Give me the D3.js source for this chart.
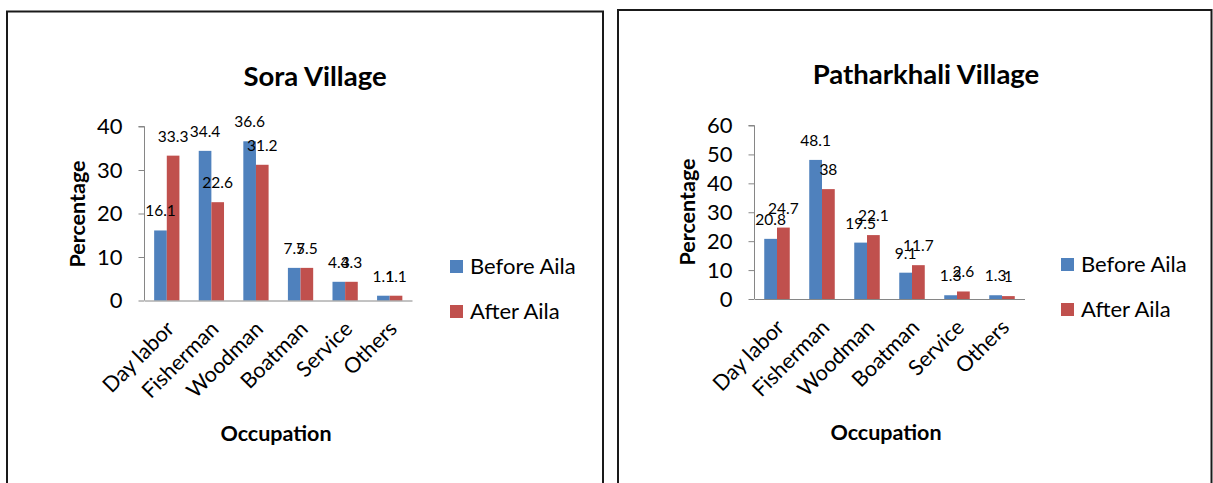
<!DOCTYPE html>
<html><head><meta charset="utf-8">
<script src="https://cdn.jsdelivr.net/npm/d3@7"></script>
<style>
body{margin:0;background:#fff}
svg{display:block}
text{font-family:Lato,"Open Sans",sans-serif;fill:#000}
</style>
</head><body>
<svg id="c" width="1213" height="483"></svg>
<script>
const categories = ["Day labor","Fisherman","Woodman","Boatman","Service","Others"];
const seriesNames = ["Before Aila","After Aila"];
const soraBefore = [16.1,34.4,36.6,7.5,4.3,1.1];
const soraAfter  = [33.3,22.6,31.2,7.5,4.3,1.1];
const pathBefore = [20.8,48.1,19.5,9.1,1.3,1.3];
const pathAfter  = [24.7,38,22.1,11.7,2.6,1];
const soraTicks = [0,10,20,30,40];
const pathTicks = [0,10,20,30,40,50,60];
const colors = ["#4F81BD","#C0504D"];

const svg = d3.select("#c");

function drawChart(cfg){
  const g = svg.append("g");
  g.append("rect").attr("x",cfg.frame.x).attr("y",cfg.frame.y)
   .attr("width",cfg.frame.w).attr("height",cfg.frame.h)
   .attr("fill","#fff").attr("stroke","#1a1a1a").attr("stroke-width",2);

  const x = d3.scaleBand().domain(categories).range([cfg.px0,cfg.px1])
    .paddingInner(0.433).paddingOuter(0.2165);
  const xs = d3.scaleBand().domain(seriesNames).range([0,x.bandwidth()]);
  const y = d3.scaleLinear().domain([0,d3.max(cfg.ticks)]).range([cfg.py0,cfg.py1]);

  const rows = categories.map((c,i)=>({c, vals:[cfg.before[i],cfg.after[i]]}));

  // y axis
  const ya = g.append("g").attr("transform",`translate(${cfg.px0},0)`)
    .call(d3.axisLeft(y).tickValues(cfg.ticks).tickSize(6).tickPadding(16).tickFormat(d3.format("d")));
  ya.select(".domain").attr("stroke","#868686").attr("d",`M-6,${y(d3.max(cfg.ticks))}H0V${cfg.py0}`);
  ya.selectAll(".tick line").attr("stroke","#868686");
  ya.selectAll(".tick text").attr("font-size",22).attr("fill","#000")
    .style("font-family","Lato, sans-serif");

  // bars
  const grp = g.selectAll(".grp").data(rows).join("g")
    .attr("transform",d=>`translate(${x(d.c)},0)`);
  grp.selectAll("rect").data(d=>d.vals.map((v,k)=>({v,k}))).join("rect")
    .attr("x",d=>xs(seriesNames[d.k])).attr("width",xs.bandwidth())
    .attr("y",d=>y(d.v)).attr("height",d=>y(0)-y(d.v))
    .attr("fill",d=>colors[d.k]);
  grp.selectAll("text").data(d=>d.vals.map((v,k)=>({v,k}))).join("text")
    .attr("x",d=>xs(seriesNames[d.k])+xs.bandwidth()/2)
    .attr("y",d=>y(d.v)-14)
    .attr("text-anchor","middle").attr("font-size",15.5).attr("fill","#222")
    .text(d=>d.v);

  // x axis
  const xa = g.append("g").attr("transform",`translate(0,${cfg.py0})`)
    .call(d3.axisBottom(x).tickSize(0).tickPadding(0));
  xa.select(".domain").attr("stroke","#868686");
  xa.selectAll(".tick text")
    .attr("font-size",21.5).attr("text-anchor","end")
    .attr("transform","translate(-2,19) rotate(-45)")
    .attr("dy","0.7em").attr("fill","#000");

  // titles
  g.append("text").attr("x",cfg.title[0]).attr("y",cfg.title[1])
    .attr("text-anchor","middle").attr("font-weight","bold").attr("font-size",27.5)
    .text(cfg.name);
  g.append("text").attr("transform",`translate(${cfg.ytitle[0]},${cfg.ytitle[1]}) rotate(-90)`)
    .attr("text-anchor","middle").attr("font-weight","bold").attr("font-size",21.5)
    .attr("dy","0.35em").text("Percentage");
  g.append("text").attr("x",cfg.xtitle[0]).attr("y",cfg.xtitle[1])
    .attr("text-anchor","middle").attr("font-weight","bold").attr("font-size",21.5)
    .text("Occupation");

  // legend
  const lg = g.selectAll(".lg").data(seriesNames).join("g")
    .attr("transform",(d,i)=>`translate(${cfg.legend[0]},${cfg.legend[1]+i*45})`);
  lg.append("rect").attr("width",13).attr("height",13).attr("fill",(d,i)=>colors[i]);
  lg.append("text").attr("x",20).attr("y",6.5).attr("dy","0.35em")
    .attr("font-size",22).text(d=>d);
}

drawChart({name:"Sora Village", before:soraBefore, after:soraAfter, ticks:soraTicks,
  frame:{x:7,y:11.5,w:596,h:490}, px0:144.5, px1:412, py0:300.5, py1:126.5,
  title:[315,86], ytitle:[77,214], xtitle:[276,441], legend:[450,260]});
drawChart({name:"Patharkhali Village", before:pathBefore, after:pathAfter, ticks:pathTicks,
  frame:{x:618,y:10,w:593.5,h:490}, px0:754.5, px1:1024.5, py0:299, py1:125.5,
  title:[926,84], ytitle:[687,212], xtitle:[886,440], legend:[1061,258]});
</script>
</body></html>
